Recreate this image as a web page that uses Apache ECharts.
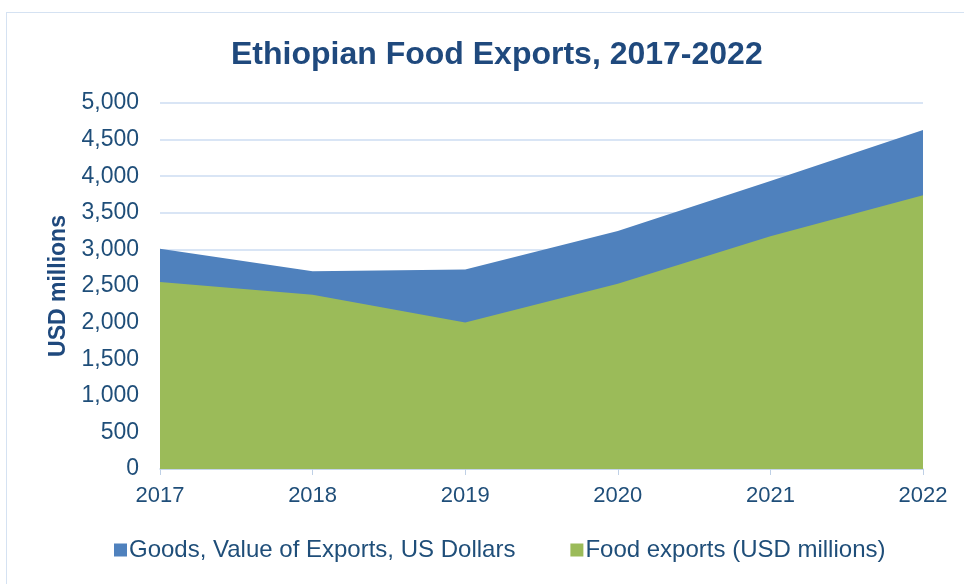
<!DOCTYPE html>
<html>
<head>
<meta charset="utf-8">
<script src="https://cdn.jsdelivr.net/npm/echarts@6/dist/echarts.min.js"></script>
<style>
  html, body { margin: 0; padding: 0; background: #fff; }
  #frame { position: absolute; left: 6px; top: 12px; width: 980px; height: 600px;
           border: 1.5px solid #D5E2F2; box-sizing: border-box; }
  #chart { position: absolute; left: 0; top: 0; width: 964px; height: 584px; }
</style>
</head>
<body>
<div id="frame"></div>
<div id="chart"></div>
<script>
const years = ['2017', '2018', '2019', '2020', '2021', '2022'];
const goodsExports = [3010, 2700, 2725, 3250, 3935, 4630];
const foodExports = [2555, 2380, 2000, 2530, 3180, 3740];
const seriesNames = ['Goods, Value of Exports, US Dollars', 'Food exports (USD millions)'];

const textColor = '#1F4E79';
const font = 'Liberation Sans, Arial, sans-serif';

const chart = echarts.init(document.getElementById('chart'), null, { renderer: 'canvas' });
chart.setOption({
  animation: false,
  title: {
    text: 'Ethiopian Food Exports, 2017-2022',
    left: 226,
    top: 34,
    textStyle: { color: '#1F497D', fontSize: 32, fontWeight: 'bold', fontFamily: font }
  },
  grid: { left: 160, right: 41, top: 103, bottom: 115 },
  legend: {
    top: 533,
    left: 109,
    itemWidth: 13,
    itemHeight: 13,
    itemGap: 55,
    icon: 'rect',
    textStyle: { color: textColor, fontSize: 24, fontFamily: font, padding: [0, 0, 0, -3] },
    data: seriesNames
  },
  xAxis: {
    type: 'category',
    data: years,
    boundaryGap: false,
    axisLine: { lineStyle: { color: '#BFD0E6', width: 1.5 } },
    axisTick: { show: true, length: 6, lineStyle: { color: '#BFD0E6' } },
    axisLabel: { color: textColor, fontSize: 22, fontFamily: font, margin: 16 }
  },
  yAxis: {
    type: 'value',
    min: 0,
    max: 5000,
    interval: 500,
    name: 'USD millions',
    nameLocation: 'middle',
    nameGap: 90,
    nameTextStyle: { color: '#1F497D', fontSize: 23, fontWeight: 'bold', fontFamily: font },
    axisLine: { show: false },
    axisTick: { show: false },
    axisLabel: {
      color: textColor, fontSize: 23, fontFamily: font, margin: 21,
      formatter: v => v.toLocaleString('en-US')
    },
    splitLine: { lineStyle: { color: '#D9E5F5', width: 2 } }
  },
  series: [
    {
      name: seriesNames[0],
      type: 'line',
      data: goodsExports,
      symbol: 'none',
      lineStyle: { width: 0 },
      itemStyle: { color: '#4F81BD' },
      areaStyle: { color: '#4F81BD', opacity: 1 },
      z: 2
    },
    {
      name: seriesNames[1],
      type: 'line',
      data: foodExports,
      symbol: 'none',
      lineStyle: { width: 0 },
      itemStyle: { color: '#9BBB59' },
      areaStyle: { color: '#9BBB59', opacity: 1 },
      z: 3
    }
  ]
});
</script>
</body>
</html>
